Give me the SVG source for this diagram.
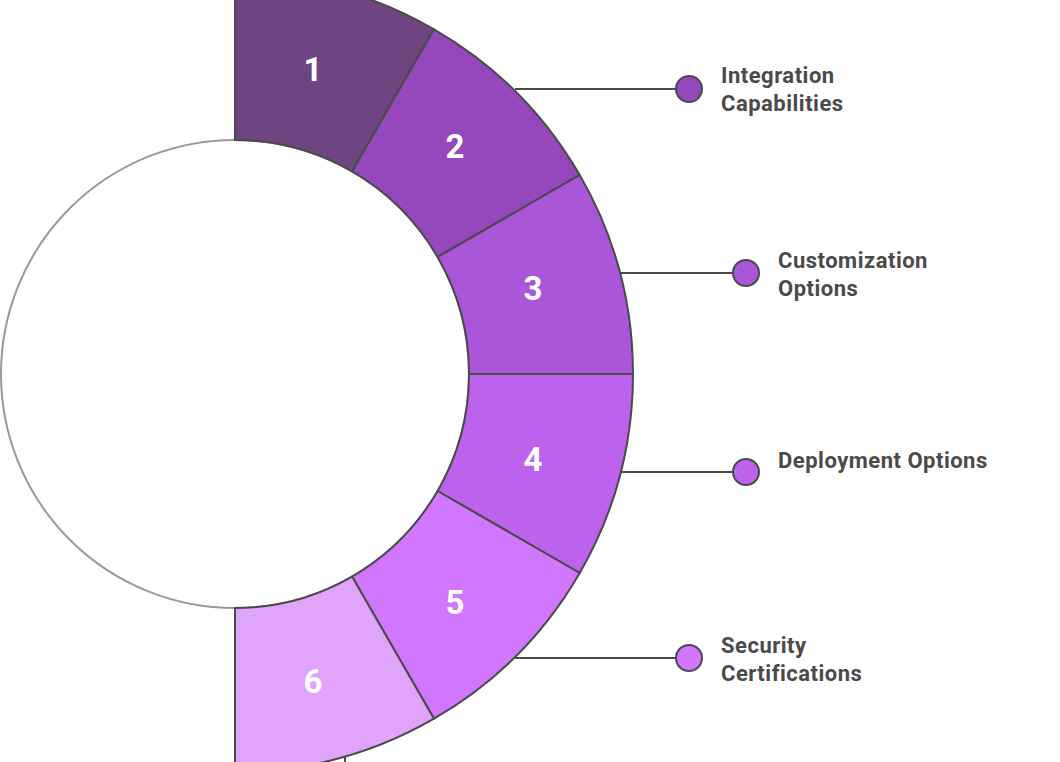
<svg xmlns="http://www.w3.org/2000/svg" width="1060" height="762" viewBox="0 0 1060 762">
<style>
.seg{stroke:#4a4a4a;stroke-width:2;stroke-linejoin:round}
.num{font-family:Roboto,"Liberation Sans",sans-serif;font-weight:bold;font-size:33px;fill:#fff;text-anchor:middle}
.lbl{font-family:Roboto,"Liberation Sans",sans-serif;font-weight:bold;font-size:22px;letter-spacing:0.5px;fill:#4a4a4a}
.con{stroke:#4a4a4a;stroke-width:2;fill:none}
.dot{stroke:#4a4a4a;stroke-width:2}
</style>
<rect width="1060" height="762" fill="#fff"/>
<circle cx="235" cy="374" r="234" fill="#fff" stroke="#999" stroke-width="2"/>
<g id="connectors">
<line class="con" x1="515" y1="89" x2="676" y2="89"/>
<line class="con" x1="620" y1="273" x2="733" y2="273"/>
<line class="con" x1="620" y1="472" x2="733" y2="472"/>
<line class="con" x1="515" y1="658" x2="676" y2="658"/>
<line class="con" x1="345" y1="752" x2="345" y2="762"/>
</g>
<g id="seg1"><path class="seg" fill="#6f4581" d="M235,-24 A398,398 0 0 1 434,29.3 L352,171.4 A234,234 0 0 0 235,140 Z"/><text class="num" x="313" y="81">1</text></g>
<g id="seg2"><path class="seg" fill="#9448bb" d="M434,29.3 A398,398 0 0 1 579.7,175 L437.6,257 A234,234 0 0 0 352,171.4 Z"/><text class="num" x="455" y="158">2</text></g>
<g id="seg3"><path class="seg" fill="#a957d8" d="M579.7,175 A398,398 0 0 1 633,374 L469,374 A234,234 0 0 0 437.6,257 Z"/><text class="num" x="533" y="300">3</text></g>
<g id="seg4"><path class="seg" fill="#bc62ec" d="M633,374 A398,398 0 0 1 579.7,573 L437.6,491 A234,234 0 0 0 469,374 Z"/><text class="num" x="533" y="471">4</text></g>
<g id="seg5"><path class="seg" fill="#d177fd" d="M579.7,573 A398,398 0 0 1 434,718.7 L352,576.6 A234,234 0 0 0 437.6,491 Z"/><text class="num" x="455" y="614">5</text></g>
<g id="seg6"><path class="seg" fill="#e1a4fb" d="M434,718.7 A398,398 0 0 1 235,772 L235,608 A234,234 0 0 0 352,576.6 Z"/><text class="num" x="313" y="693">6</text></g>
<g id="label2"><circle class="dot" cx="689" cy="89" r="13" fill="#9448bb"/><text class="lbl" x="721" y="83">Integration</text><text class="lbl" x="721" y="111">Capabilities</text></g>
<g id="label3"><circle class="dot" cx="746" cy="273" r="13" fill="#a957d8"/><text class="lbl" x="778" y="268">Customization</text><text class="lbl" x="778" y="296">Options</text></g>
<g id="label4"><circle class="dot" cx="746" cy="472" r="13" fill="#bc62ec"/><text class="lbl" x="778" y="468">Deployment Options</text></g>
<g id="label5"><circle class="dot" cx="689" cy="658" r="13" fill="#d177fd"/><text class="lbl" x="721" y="653">Security</text><text class="lbl" x="721" y="681">Certifications</text></g>
</svg>
